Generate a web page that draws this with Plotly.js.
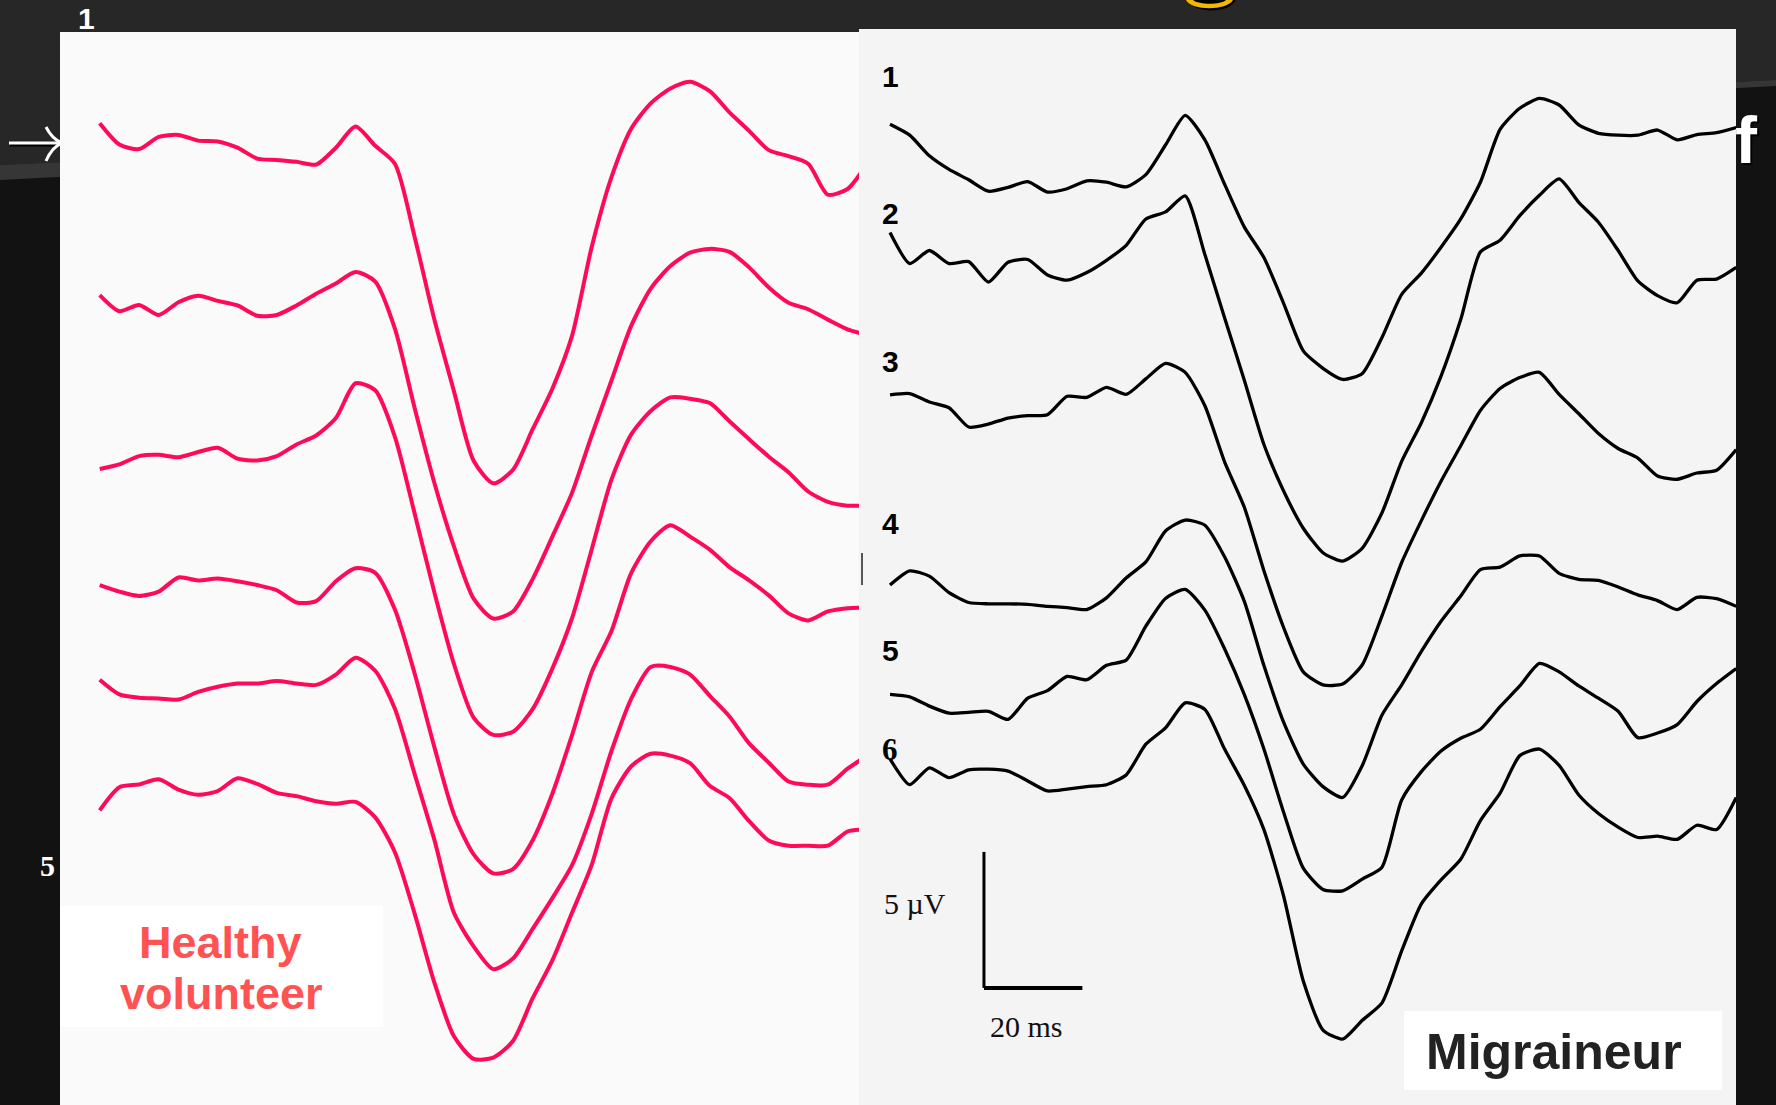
<!DOCTYPE html>
<html>
<head>
<meta charset="utf-8">
<script src="https://cdn.plot.ly/plotly-3.0.1.min.js"></script>
<style>
html,body{margin:0;padding:0;background:#111;}
#chart{width:1776px;height:1105px;}
</style>
</head>
<body>
<div id="chart"></div>
<script>
// ---- data (time in ms from trace onset, amplitude in µV relative to each trace's baseline) ----
const timeHealthy = [0,4,8,12,16,20,24,28,32,36,40,44,48,52,56,60,64,68,72,76,80,84,88,92,96,100,104,108,112,116,120,124,128,132,136,140,144,148,152,155];
const timeMigraine = [0,4,8,12,16,20,24,28,32,36,40,44,48,52,56,60,64,68,72,76,80,84,88,92,96,100,104,108,112,116,120,124,128,132,136,140,144,148,152,156,160,164,168,172];

const healthy1 = [0,-0.78,-0.95,-0.50,-0.43,-0.64,-0.67,-0.90,-1.30,-1.35,-1.42,-1.52,-0.90,-0.12,-0.83,-1.49,-4.17,-7.20,-9.85,-12.41,-13.24,-12.74,-11.25,-9.76,-7.82,-4.55,-1.99,-0.21,0.73,1.28,1.52,1.18,0.40,-0.28,-0.99,-1.21,-1.49,-2.63,-2.42,-1.75];
const healthy2 = [0,-0.59,-0.36,-0.73,-0.26,-0.02,-0.21,-0.38,-0.76,-0.73,-0.38,0.05,0.43,0.85,0.50,-1.23,-4.14,-6.89,-9.24,-11.16,-11.89,-11.63,-10.44,-8.88,-7.27,-5.16,-3.15,-1.14,0.24,1.07,1.56,1.70,1.59,1.02,0.28,-0.28,-0.52,-0.90,-1.26,-1.42];
const healthy3 = [0,0.17,0.47,0.52,0.43,0.62,0.78,0.38,0.31,0.47,0.90,1.23,1.87,3.15,2.89,1.18,-1.63,-4.52,-7.17,-9.14,-9.78,-9.66,-8.83,-7.34,-5.49,-2.96,-0.40,1.26,2.13,2.63,2.58,2.42,1.75,1.09,0.45,-0.12,-0.83,-1.21,-1.35,-1.35];
const healthy4 = [0,-0.24,-0.40,-0.24,0.28,0.17,0.24,0.14,0,-0.19,-0.64,-0.59,0.14,0.62,0.45,-0.90,-3.24,-5.94,-8.43,-9.90,-10.60,-10.44,-9.38,-7.67,-5.52,-3.20,-1.70,0.43,1.61,2.20,1.78,1.30,0.66,0.17,-0.38,-1.04,-1.30,-0.97,-0.85,-0.83];
const healthy5 = [0,-0.54,-0.66,-0.69,-0.73,-0.45,-0.26,-0.14,-0.14,-0.05,-0.14,-0.19,0.19,0.81,0.33,-1.07,-3.46,-5.87,-8.57,-9.80,-10.64,-10.25,-9.16,-8.03,-6.82,-4.93,-2.63,-0.71,0.47,0.47,0.19,-0.59,-1.35,-2.34,-3.05,-3.74,-3.86,-3.86,-3.27,-2.91];
const healthy6 = [0,0.85,0.95,1.14,0.76,0.57,0.71,1.18,0.97,0.64,0.52,0.33,0.24,0.31,-0.26,-1.54,-3.79,-6.32,-8.31,-9.14,-9.09,-8.48,-6.91,-5.52,-3.77,-2.01,0.43,1.61,2.08,2.01,1.73,0.90,0.45,-0.40,-1.11,-1.30,-1.30,-1.30,-0.78,-0.71];

const migraine1 = [0,-0.40,-1.16,-1.66,-2.04,-2.46,-2.32,-2.11,-2.49,-2.37,-2.08,-2.13,-2.30,-1.85,-0.76,0.33,-0.57,-2.20,-3.77,-4.90,-6.58,-8.33,-8.97,-9.38,-9.16,-7.84,-6.25,-5.47,-4.52,-3.48,-2.13,-0.19,0.59,0.95,0.71,-0.02,-0.33,-0.40,-0.40,-0.21,-0.57,-0.38,-0.31,-0.12];
const migraine2 = [0,-1.14,-0.66,-1.14,-1.07,-1.82,-1.09,-0.99,-1.56,-1.75,-1.47,-1.02,-0.47,0.50,0.76,1.35,-0.81,-3.13,-5.42,-7.79,-9.50,-10.87,-11.77,-12.08,-11.60,-10.30,-8.41,-6.99,-5.28,-3.20,-0.71,-0.28,0.62,1.37,1.97,1.11,0.38,-0.66,-1.78,-2.32,-2.58,-1.75,-1.71,-1.28];
const migraine3 = [0,0.05,-0.26,-0.47,-1.18,-1.07,-0.85,-0.76,-0.73,-0.05,-0.09,0.28,0.02,0.59,1.16,0.83,-0.40,-2.46,-4.12,-6.46,-8.55,-10.18,-10.66,-10.63,-9.92,-8.12,-6.16,-4.62,-3.17,-1.87,-0.57,0.24,0.64,0.83,0.02,-0.69,-1.42,-1.97,-2.32,-2.98,-3.10,-2.87,-2.77,-2.01];
const migraine4 = [0,0.52,0.33,-0.28,-0.64,-0.69,-0.69,-0.71,-0.78,-0.83,-0.90,-0.47,0.26,0.85,1.99,2.39,2.20,1.04,-0.59,-2.96,-5.04,-6.58,-7.41,-7.81,-6.63,-4.78,-3.67,-2.44,-1.33,-0.40,0.57,0.66,1.07,1.07,0.43,0.21,0.17,-0.07,-0.36,-0.57,-0.90,-0.45,-0.50,-0.78];
const migraine5 = [0,-0.09,-0.43,-0.69,-0.66,-0.62,-0.92,-0.14,0.14,0.66,0.54,1.07,1.26,2.51,3.53,3.86,3.10,1.68,0,-2.01,-4.33,-6.39,-7.17,-7.22,-6.79,-6.35,-3.88,-2.84,-2.08,-1.61,-1.28,-0.45,0.31,1.14,0.83,0.31,-0.14,-0.62,-1.59,-1.42,-1.11,-0.26,0.40,0.95];
const migraine6 = [0,-0.95,-0.33,-0.69,-0.40,-0.38,-0.45,-0.81,-1.18,-1.11,-1.02,-0.95,-0.59,0.54,1.14,2.06,1.82,0.36,-0.97,-2.60,-5.04,-8.17,-9.97,-10.30,-9.61,-8.97,-7.06,-5.33,-4.45,-3.69,-2.27,-1.26,0.12,0.36,-0.24,-1.33,-2.01,-2.51,-2.89,-2.84,-2.96,-2.44,-2.60,-1.42];

const traceLabels = ['1','2','3','4','5','6'];
// vertical stacking baselines (µV, below the top edge of the slide)
const healthyOffsets = [-4.53,-10.85,-17.24,-21.51,-24.99,-29.79];
const migraineOffsets = [-4.57,-8.55,-14.52,-21.51,-25.53,-27.90];
const scaleBarMs = 20;
const scaleBarUv = 5;
const groupLabels = ['Healthy','volunteer','Migraineur'];

// ---- layout helpers ----
const W = 1776, H = 1105;
const px = x => x / W;
const py = y => 1 - y / H;
const pathPx = (pts, close) => pts.map((p, i) => (i ? 'L' : 'M') + px(p[0]) + ',' + py(p[1])).join(' ') + (close ? ' Z' : '');

const healthy = [healthy1, healthy2, healthy3, healthy4, healthy5, healthy6];
const migraine = [migraine1, migraine2, migraine3, migraine4, migraine5, migraine6];

const data = [];
healthy.forEach((vals, i) => {
  data.push({
    x: timeHealthy, y: vals.map(v => v + healthyOffsets[i]),
    xaxis: 'x', yaxis: 'y', type: 'scatter', mode: 'lines',
    line: {color: '#ff0a58', width: 4, shape: 'spline', smoothing: 0.7}, hoverinfo: 'skip', name: 'Healthy ' + traceLabels[i]
  });
});
migraine.forEach((vals, i) => {
  data.push({
    x: timeMigraine, y: vals.map(v => v + migraineOffsets[i]),
    xaxis: 'x2', yaxis: 'y2', type: 'scatter', mode: 'lines',
    line: {color: '#000000', width: 3.3, shape: 'spline', smoothing: 0.6}, hoverinfo: 'skip', name: 'Migraineur ' + traceLabels[i]
  });
});

const barT0 = 19.1, barV0 = -36.32;

const shapes = [
  // slide background: grey top band with lighter swoosh
  {type: 'path', xref: 'paper', yref: 'paper', layer: 'below', path: pathPx([[0,0],[1776,0],[1776,80],[0,165]], true), fillcolor: '#272727', line: {width: 0}},
  {type: 'path', xref: 'paper', yref: 'paper', layer: 'below', path: pathPx([[0,165],[1776,80],[1776,86],[0,180]], true), fillcolor: '#363636', line: {width: 0}},
  // white arrow on the left (partly hidden by panel), with dark shadow
  {type: 'path', xref: 'paper', yref: 'paper', layer: 'below', path: pathPx([[10,145],[60,145]], false), line: {color: '#000000', width: 3}},
  {type: 'path', xref: 'paper', yref: 'paper', layer: 'below', path: pathPx([[9,143],[60,143]], false), line: {color: '#ffffff', width: 3}},
  {type: 'path', xref: 'paper', yref: 'paper', layer: 'below', path: 'M' + px(46) + ',' + py(127) + ' Q' + px(52) + ',' + py(139) + ' ' + px(62) + ',' + py(143) + ' Q' + px(52) + ',' + py(147) + ' ' + px(46) + ',' + py(161), line: {color: '#ffffff', width: 3}},
  // panels
  {type: 'rect', xref: 'paper', yref: 'paper', layer: 'below', x0: px(60), x1: px(859), y0: py(32), y1: py(1105), fillcolor: '#fafafa', line: {width: 0}},
  {type: 'rect', xref: 'paper', yref: 'paper', layer: 'below', x0: px(859), x1: px(1736), y0: py(29), y1: py(1105), fillcolor: '#f4f4f4', line: {width: 0}},
  // label boxes
  {type: 'rect', xref: 'paper', yref: 'paper', layer: 'below', x0: px(60), x1: px(383), y0: py(906), y1: py(1027), fillcolor: '#ffffff', line: {width: 0}},
  {type: 'rect', xref: 'paper', yref: 'paper', layer: 'below', x0: px(1404), x1: px(1722), y0: py(1011), y1: py(1090), fillcolor: '#ffffff', line: {width: 0}},
  // cut-off stroke at panel seam
  {type: 'path', xref: 'paper', yref: 'paper', layer: 'below', path: pathPx([[862,553],[862,585]], false), line: {color: '#555555', width: 2}},
  // yellow title descender at top (with shadow)
  {type: 'path', xref: 'paper', yref: 'paper', layer: 'below', path: 'M' + px(1188) + ',' + py(0) + ' C' + px(1193) + ',' + py(14) + ' ' + px(1229) + ',' + py(14) + ' ' + px(1236) + ',' + py(0) + ' Z', fillcolor: '#000000', line: {width: 0}},
  {type: 'path', xref: 'paper', yref: 'paper', layer: 'below', path: 'M' + px(1186) + ',' + py(0) + ' C' + px(1191) + ',' + py(11) + ' ' + px(1227) + ',' + py(11) + ' ' + px(1233) + ',' + py(0) + ' L' + px(1226) + ',' + py(0) + ' C' + px(1221) + ',' + py(5) + ' ' + px(1199) + ',' + py(5) + ' ' + px(1193) + ',' + py(0) + ' Z', fillcolor: '#f2b705', line: {width: 0}},
  // scale bar (5 µV, 20 ms)
  {type: 'line', xref: 'x2', yref: 'y2', layer: 'above', x0: barT0, x1: barT0, y0: barV0, y1: barV0 + scaleBarUv, line: {color: '#000000', width: 3}},
  {type: 'line', xref: 'x2', yref: 'y2', layer: 'above', x0: barT0, x1: barT0 + scaleBarMs, y0: barV0, y1: barV0, line: {color: '#000000', width: 4}}
];

const sans = 'Liberation Sans, Arial, Helvetica, sans-serif';
const serif = 'Liberation Serif, Times New Roman, serif';
const ann = (text, x, y, size, color, family, opts) => Object.assign({
  text: text, xref: 'paper', yref: 'paper', x: px(x), y: py(y), xanchor: 'center', yanchor: 'middle',
  showarrow: false, font: {size: size, color: color, family: family}
}, opts || {});

const labelY = [77, 214, 362, 523, 650, 749];
const annotations = [];
traceLabels.forEach((t, i) => {
  if (i === 5) annotations.push(ann('<b>' + t + '</b>', 890, labelY[i], 31, '#000000', serif));
  else annotations.push(ann('<b>' + t + '</b>', 891, labelY[i], 30, '#000000', sans));
});
annotations.push(ann('<b>' + groupLabels[0] + '</b>', 220, 942, 45, '#ff5252', sans));
annotations.push(ann('<b>' + groupLabels[1] + '</b>', 221, 993, 45, '#ff5252', sans));
annotations.push(ann('<b>' + groupLabels[2] + '</b>', 1554, 1052, 50, '#222222', sans));
annotations.push(ann(scaleBarUv + ' \u00b5V', 915, 903, 30, '#111111', serif));
annotations.push(ann(scaleBarMs + ' ms', 1026, 1026, 30, '#111111', serif));
// slide decorations
annotations.push(ann('<b>1</b>', 86, 18, 30, '#ffffff', sans));
annotations.push(ann('<b>5</b>', 47, 865, 30, '#ffffff', serif));
annotations.push(ann('<b>f</b>', 1748, 142, 66, '#000000', sans));
annotations.push(ann('<b>f</b>', 1746, 140, 66, '#ffffff', sans));

const layout = {
  width: W, height: H,
  margin: {l: 0, r: 0, t: 0, b: 0, pad: 0},
  paper_bgcolor: '#121212',
  plot_bgcolor: 'rgba(0,0,0,0)',
  showlegend: false,
  xaxis: {domain: [px(60), px(859)], range: [-8.07, 154.33], visible: false, fixedrange: true},
  yaxis: {domain: [0, 1], range: [-40.625, 0], visible: false, fixedrange: true},
  xaxis2: {domain: [px(859), px(1736)], range: [-6.30, 171.95], visible: false, anchor: 'y2', fixedrange: true},
  yaxis2: {domain: [0, 1], range: [-40.625, 0], visible: false, anchor: 'x2', fixedrange: true},
  shapes: shapes,
  annotations: annotations
};

Plotly.newPlot('chart', data, layout, {displayModeBar: false, staticPlot: true});
</script>
</body>
</html>
